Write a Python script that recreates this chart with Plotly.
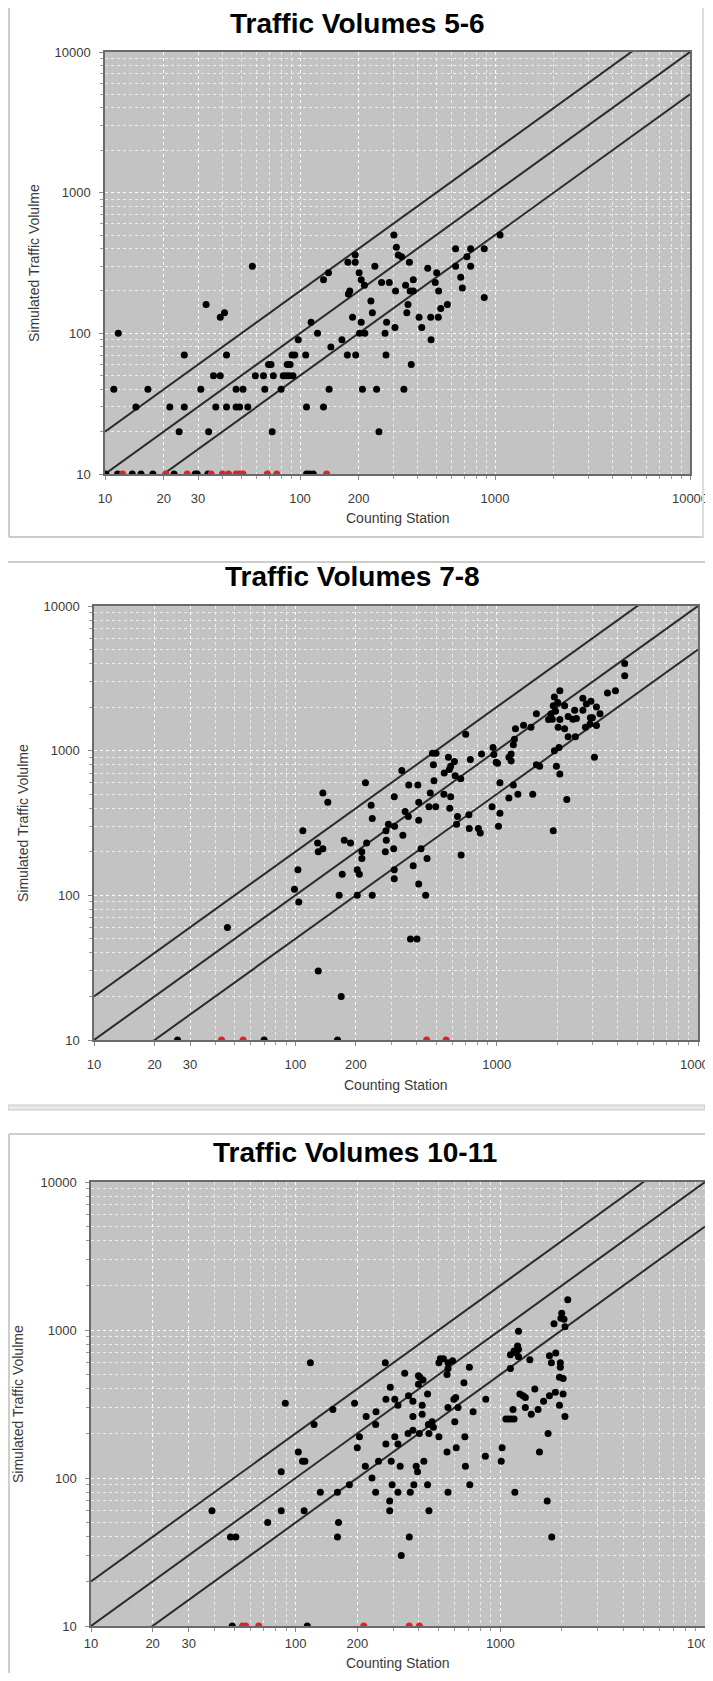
import plotly.graph_objects as go

# page body keeps its default 8px margin, so the figure is sized to fit inside the window
OFF = 8
W, H = 713 - 2 * OFF, 1681 - 2 * OFF

titles = ["Traffic Volumes 5-6", "Traffic Volumes 7-8", "Traffic Volumes 10-11"]
x_label = "Counting Station"
y_label = "Simulated Traffic Volulme"
x_tick_vals = [10, 20, 30, 100, 200, 1000, 10000]
x_tick_text = ["10", "20", "30", "100", "200", "1000", "10000"]
y_tick_vals = [10, 100, 1000, 10000]
y_tick_text = ["10", "100", "1000", "10000"]
minor_vals = [m * 10 ** k for k in range(1, 4) for m in range(2, 10)]
ref_factors = [2, 1, 0.5]

# ---------------- Panel 1 : Traffic Volumes 5-6 ----------------
p1_x = [303, 1062, 312, 319, 332, 364, 628, 750, 718, 881, 628, 750, 667, 680, 881, 502, 452, 494, 514,
        570, 527, 512, 468, 408, 421, 470, 381, 348, 367, 381, 309, 358, 353, 307, 278, 273, 276, 372,
        341, 247, 254, 262, 287, 242, 231, 235, 214, 206, 201, 192, 192, 176, 180, 177, 186, 206, 202,
        215, 175, 193, 209, 164, 144, 141, 132, 108, 123, 114, 132, 140, 107, 98, 94, 91, 89, 92, 85,
        88, 82, 86, 80, 73, 69, 71, 65, 59, 66, 72, 57, 41, 39, 33, 42, 39, 36, 42, 37, 31, 25.5, 25.5,
        24, 34, 47, 51, 47, 49, 54, 21.5, 16.6, 14.4, 11.1, 11.7,
        10.1, 11.6, 13.8, 15.3, 17.6, 22.6, 29, 29.7, 33.7, 108, 112, 117]
p1_y = [500, 500, 410, 360, 350, 320, 400, 400, 350, 400, 300, 300, 250, 210, 180, 270, 290, 230, 200,
        160, 150, 130, 130, 130, 110, 90, 240, 220, 200, 200, 200, 160, 140, 110, 120, 100, 70, 60,
        40, 40, 20, 230, 230, 300, 170, 140, 220, 240, 270, 360, 320, 320, 200, 190, 130, 120, 100,
        100, 70, 70, 40, 90, 80, 40, 30, 30, 100, 120, 240, 270, 70, 90, 70, 70, 60, 50, 50,
        50, 50, 60, 40, 50, 60, 60, 50, 50, 40, 20, 300, 140, 130, 160, 70, 50, 50, 30, 30, 40, 70, 30,
        20, 20, 40, 40, 30, 30, 30, 30, 40, 30, 40, 100,
        10, 10, 10, 10, 10, 10, 10, 10, 10, 10, 10, 10]
p1_red_x = [12.3, 20.5, 26.4, 35, 40, 43, 47, 49, 51, 68, 76, 137]
p1_red_y = [10, 10, 10, 10, 10, 10, 10, 10, 10, 10, 10, 10]

# ---------------- Panel 2 : Traffic Volumes 7-8 ----------------
p2_x = [4325, 4325, 3890, 3550, 3130, 3260, 2940, 2680, 2790, 2680, 2440, 2490, 2390, 2265, 2920, 2990,
        2910, 3130, 2760, 2460, 2265, 2175, 2020, 2175, 2060, 2010, 1935, 1910, 1960, 1860, 1890, 1810,
        2060, 1935, 2040, 1980, 2060, 2230, 1910, 3060, 1575, 1635, 1575, 1480, 1360, 1240, 1225, 1210,
        1180, 1150, 1180, 1210, 1150, 1275, 1510, 959, 968, 995, 1010, 1038, 1038, 949, 1021, 841, 811,
        829, 740, 731, 728, 702, 663, 622, 666, 639, 617, 576, 591, 582, 591, 585, 632, 547, 549, 500,
        480, 485, 488, 468, 461, 498, 410, 451, 444, 406, 410, 421, 410, 385, 366, 364, 351, 338, 310,
        308, 310, 310, 311, 342, 373, 402, 283, 282, 280, 290, 238, 241, 226, 214, 214, 203, 208, 203,
        241, 223, 188, 175, 171, 165, 169, 130, 129, 130, 137, 137, 145, 109, 103, 99, 104, 46,
        26, 70, 162]
p2_y = [4000, 3300, 2600, 2500, 2000, 1800, 2200, 2300, 2100, 1900, 1900, 1670, 1650, 1720, 1690, 1690,
        1530, 1490, 1450, 1250, 1250, 1420, 1450, 2040, 2600, 2150, 2350, 2040, 1870, 1790, 1650, 1640,
        1640, 1000, 1050, 780, 690, 460, 280, 900, 1800, 780, 800, 1450, 1500, 1420, 1200, 1100,
        950, 900, 850, 580, 470, 500, 500, 1050, 940, 830, 820, 600, 370, 410, 300, 950, 290,
        270, 870, 290, 360, 1300, 640, 670, 190, 350, 840, 900, 780, 740, 480, 400, 310, 500, 700, 960,
        960, 800, 620, 510, 410, 410, 440, 180, 100, 580, 330, 210, 120, 160, 580, 350, 380, 730, 480,
        210, 150, 130, 300, 260, 50, 50, 240, 280, 200, 310, 420, 340, 230, 200, 180, 150, 140, 100,
        100, 600, 230, 240, 140, 100, 20, 30, 230, 200, 210, 510, 440, 280, 150, 110, 90, 60,
        10, 10, 10]
p2_red_x = [43, 55, 449, 561]
p2_red_y = [10, 10, 10, 10]

# ---------------- Panel 3 : Traffic Volumes 10-11 ----------------
p3_x = [2135, 1995, 1977, 2047, 2069, 1829, 1738, 1866, 1775, 1965, 1965, 1945, 2026, 2026, 1858, 1738,
        1945, 2069, 1626, 1711, 1694, 1783, 1553, 1529, 1474, 1416, 1394, 1325, 1291, 1246, 1325, 1227,
        1214, 1227, 1197, 1227, 1167, 1120, 1120, 1153, 1167, 1097, 1064, 1130, 1178, 1020, 1010, 845,
        849, 736, 706, 709, 664, 671, 675, 621, 605, 593, 599, 609, 555, 549, 555, 584, 555, 555, 549,
        527, 509, 501, 501, 464, 471, 441, 445, 448, 441, 448, 423, 415, 415, 398, 405, 419, 398, 402,
        394, 388, 374, 374, 374, 378, 363, 356, 354, 359, 341, 324, 316, 316, 316, 328, 305, 305, 293,
        290, 296, 288, 288, 276, 276, 274, 254, 246, 247, 246, 236, 219, 221, 205, 200, 194, 183, 160,
        162, 160, 152, 132, 123, 111, 108, 103, 110, 118, 89, 85, 85, 73, 51, 48, 39,
        49, 114]
p3_y = [1600, 1300, 1200, 1180, 1050, 1100, 670, 700, 600, 600, 560, 480, 470, 370, 380, 360,
        310, 260, 330, 200, 70, 40, 150, 290, 400, 270, 630, 350, 360, 370, 300, 980,
        780, 740, 700, 660, 720, 680, 550, 290, 250, 250, 250, 250, 80, 160, 130, 140,
        340, 280, 560, 90, 440, 190, 120, 300, 350, 340, 240, 160, 300, 150, 80, 620, 600, 550, 500,
        640, 640, 600, 190, 240, 220, 370, 230, 200, 90, 60, 130, 310, 270, 490, 480, 460, 430, 200,
        110, 120, 330, 260, 210, 90, 80, 360, 200, 40, 510, 120, 310, 170, 80, 30, 340, 190, 130,
        410, 90, 70, 60, 170, 340, 600, 130, 230, 280, 80, 100, 120, 260, 190, 160, 320, 90, 80,
        50, 40, 290, 80, 230, 130, 130, 150, 60, 600, 320, 110, 60, 50, 40, 40, 60,
        10, 10]
p3_red_x = [55, 57, 66, 215, 359, 402]
p3_red_y = [10, 10, 10, 10, 10, 10]

# screen-pixel layout of each panel
panels = [
    dict(bx=p1_x, by=p1_y, rx=p1_red_x, ry=p1_red_y, left=105, right=690, top=52, bottom=474,
         title_x=357, title_y=23, ylab_x=34, xlab_y=518, xstand=8),
    dict(bx=p2_x, by=p2_y, rx=p2_red_x, ry=p2_red_y, left=94, right=698, top=606, bottom=1040,
         title_x=352, title_y=576, ylab_x=23, xlab_y=1085, xstand=8),
    dict(bx=p3_x, by=p3_y, rx=p3_red_x, ry=p3_red_y, left=91, right=705, top=1182, bottom=1626,
         title_x=355, title_y=1152, ylab_x=18, xlab_y=1663, xstand=1),
]


def PX(px):
    return (px - OFF) / W


def PY(py):
    return 1 - (py - OFF) / H


fig = go.Figure()
annotations = []
tick_font = dict(family="Liberation Sans, Arial, sans-serif", size=13, color="#3a3a3a")

for i, p in enumerate(panels):
    n = "" if i == 0 else str(i + 1)
    xa, ya = "x" + n, "y" + n
    for f in ref_factors:
        fig.add_trace(go.Scatter(x=[10, 10000], y=[10 * f, 10000 * f], mode="lines",
                                 line=dict(color="#2b2b2b", width=2), xaxis=xa, yaxis=ya,
                                 hoverinfo="skip", showlegend=False))
    fig.add_trace(go.Scatter(x=p["bx"], y=p["by"], mode="markers",
                             marker=dict(color="#000000", size=7, line=dict(width=0)),
                             xaxis=xa, yaxis=ya, showlegend=False, cliponaxis=True))
    fig.add_trace(go.Scatter(x=p["rx"], y=p["ry"], mode="markers",
                             marker=dict(color="#e0202c", size=7, line=dict(width=0)),
                             xaxis=xa, yaxis=ya, showlegend=False, cliponaxis=True))

    common = dict(type="log", range=[1, 4], showline=True, linecolor="#6a6a6a", linewidth=1.5,
                  mirror=True, ticks="outside", ticklen=4, tickcolor="#8a8a8a", tickfont=tick_font,
                  showgrid=True, gridcolor="rgba(255,255,255,0.95)", gridwidth=1, griddash="dot",
                  zeroline=False, ticklabeloverflow="allow", automargin=False,
                  minor=dict(tickmode="array", tickvals=minor_vals, ticks="outside", ticklen=3,
                             tickcolor="#9a9a9a", showgrid=True, gridcolor="rgba(255,255,255,0.7)",
                             gridwidth=1, griddash="dot"))
    fig.layout["xaxis" + n] = dict(common, domain=[PX(p["left"]), min(1, PX(p["right"]))], anchor=ya,
                                   tickmode="array", tickvals=x_tick_vals, ticktext=x_tick_text,
                                   ticklabelstandoff=p["xstand"])
    fig.layout["yaxis" + n] = dict(common, domain=[PY(p["bottom"]), PY(p["top"])], anchor=xa,
                                   tickmode="array", tickvals=y_tick_vals, ticktext=y_tick_text,
                                   ticklabelstandoff=6)

    annotations.append(dict(text="<b>" + titles[i] + "</b>", x=PX(p["title_x"]), y=PY(p["title_y"]),
                            xref="paper", yref="paper", showarrow=False, xanchor="center",
                            yanchor="middle",
                            font=dict(family="Liberation Sans, Arial, sans-serif",
                                      size=28, color="#000000")))
    annotations.append(dict(text=y_label, x=PX(p["ylab_x"]), y=PY((p["top"] + p["bottom"]) / 2),
                            xref="paper", yref="paper", showarrow=False, textangle=-90,
                            xanchor="center", yanchor="middle",
                            font=dict(family="Liberation Sans, Arial, sans-serif", size=14,
                                      color="#3a3a3a")))
    annotations.append(dict(text=x_label, x=PX((p["left"] + p["right"]) / 2), y=PY(p["xlab_y"]),
                            xref="paper", yref="paper", showarrow=False, xanchor="center",
                            yanchor="middle",
                            font=dict(family="Liberation Sans, Arial, sans-serif", size=14,
                                      color="#3a3a3a")))

border = "#bcbcbc"
sh = dict(xref="paper", yref="paper", layer="above")
shapes = [
    dict(sh, type="line", x0=PX(9), x1=PX(9), y0=PY(8), y1=PY(537), line=dict(color=border, width=1.5)),
    dict(sh, type="line", x0=PX(9), x1=PX(704), y0=PY(537), y1=PY(537), line=dict(color=border, width=1.5)),
    dict(sh, type="line", x0=PX(703), x1=PX(703), y0=PY(8), y1=PY(537), line=dict(color="#dcdcdc", width=2)),
    dict(sh, type="line", x0=0, x1=1, y0=PY(562), y1=PY(562), line=dict(color=border, width=1.5)),
    dict(sh, type="rect", x0=0, x1=1, y0=PY(1110), y1=PY(1105), fillcolor="#e8e8e8",
         line=dict(color="#c8c8c8", width=1)),
    dict(sh, type="line", x0=PX(9), x1=1, y0=PY(1134), y1=PY(1134), line=dict(color=border, width=1.5)),
    dict(sh, type="line", x0=PX(9), x1=PX(9), y0=PY(1134), y1=0, line=dict(color=border, width=1.5)),
]

fig.update_layout(width=W, height=H, margin=dict(l=0, r=0, t=0, b=0), paper_bgcolor="#ffffff",
                  plot_bgcolor="#c3c3c3", annotations=annotations, shapes=shapes, showlegend=False)

fig.write_html("out.html", config={"displayModeBar": False})
